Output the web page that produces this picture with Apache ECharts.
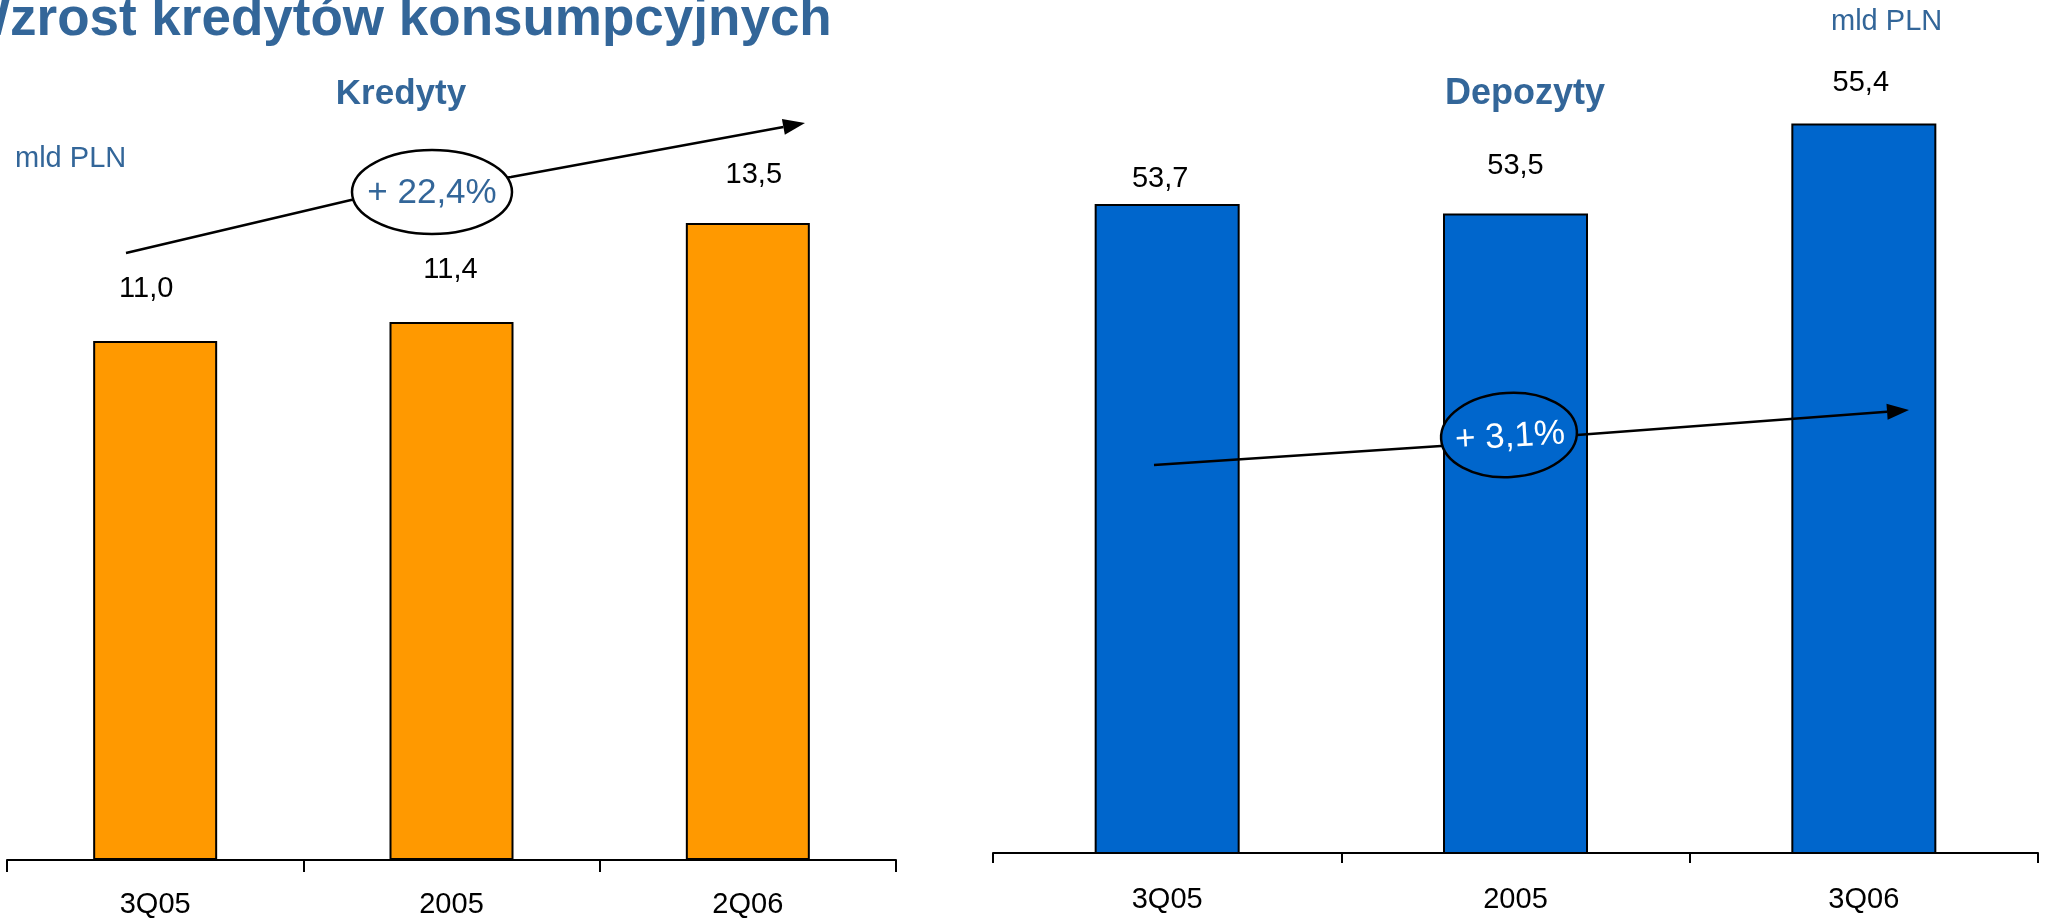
<!DOCTYPE html>
<html>
<head>
<meta charset="utf-8">
<title>Wzrost kredytów konsumpcyjnych</title>
<script src="https://cdn.jsdelivr.net/npm/echarts@6/dist/echarts.min.js"></script>
<style>
  html, body { margin: 0; padding: 0; background: #fff; }
  #chart { width: 2047px; height: 919px; }
</style>
</head>
<body>
<div id="chart"></div>
<script>
// dane - kredyty (mld PLN)
const kredytyKategorie = ['3Q05', '2005', '2Q06'];
const kredytyWartosci = [11.0, 11.4, 13.5];
// dane - depozyty (mld PLN)
const depozytyKategorie = ['3Q05', '2005', '3Q06'];
const depozytyWartosci = [53.7, 53.5, 55.4];
// dynamika
const kredytyWzrost = '+ 22,4%';
const depozytyWzrost = '+ 3,1%';

// etykiety w oryginale przesunięte ręcznie
const kredytyPrzes = [[-9, -37], [-1, -38], [6, -33]];
const depozytyPrzes = [[-7, -10], [0, -33], [-3, -26]];

const FONT = 'Liberation Sans, Arial, sans-serif';
const NIEBIESKI = '#336699';

function fmt(v) {
  return v.toFixed(1).replace('.', ',');
}

// strzałka: łamana + grot na końcu
function strzalka(punkty) {
  const n = punkty.length;
  const [x1, y1] = punkty[n - 2];
  const [x2, y2] = punkty[n - 1];
  const dx = x2 - x1, dy = y2 - y1;
  const len = Math.hypot(dx, dy);
  const ux = dx / len, uy = dy / len;
  const hl = 22, hw = 8;
  const bx = x2 - ux * hl, by = y2 - uy * hl;
  const linia = punkty.slice(0, n - 1).concat([[bx, by]]);
  return [
    {
      type: 'polyline', z: 100,
      shape: { points: linia },
      style: { stroke: '#000', lineWidth: 2.5, fill: null }
    },
    {
      type: 'polygon', z: 100,
      shape: { points: [[x2, y2], [bx - uy * hw, by + ux * hw], [bx + uy * hw, by - ux * hw]] },
      style: { fill: '#000' }
    }
  ];
}

function osX(idx, kategorie, margin, tick) {
  return {
    type: 'category',
    gridIndex: idx,
    data: kategorie,
    axisLine: { lineStyle: { color: '#000', width: 2 } },
    axisTick: { show: true, length: tick, lineStyle: { color: '#000', width: 2 } },
    axisLabel: {
      interval: 0,
      margin: margin,
      color: '#000',
      fontSize: 29,
      lineHeight: 29,
      fontFamily: FONT
    }
  };
}

function seria(idx, wartosci, przes, kolor, szer) {
  return {
    type: 'bar',
    xAxisIndex: idx,
    yAxisIndex: idx,
    barWidth: szer,
    data: wartosci.map(function (v, i) {
      return { value: v, label: { offset: przes[i] } };
    }),
    itemStyle: { color: kolor, borderColor: '#000', borderWidth: 2 },
    label: {
      show: true,
      position: 'top',
      distance: 0,
      formatter: function (p) { return fmt(p.value); },
      color: '#000',
      fontSize: 29,
      lineHeight: 29,
      fontFamily: FONT
    },
    emphasis: { disabled: true }
  };
}

const chart = echarts.init(document.getElementById('chart'));

const grafika = [
  {
    type: 'text', x: -40, y: 20, z: 100,
    style: { text: 'Wzrost kredytów konsumpcyjnych', font: 'bold 53px ' + FONT, fill: NIEBIESKI, textAlign: 'left', textVerticalAlign: 'middle' }
  },
  {
    type: 'text', x: 401, y: 94, z: 100,
    style: { text: 'Kredyty', font: 'bold 35px ' + FONT, fill: NIEBIESKI, textAlign: 'center', textVerticalAlign: 'middle' }
  },
  {
    type: 'text', x: 1525, y: 94, z: 100,
    style: { text: 'Depozyty', font: 'bold 36px ' + FONT, fill: NIEBIESKI, textAlign: 'center', textVerticalAlign: 'middle' }
  },
  {
    type: 'text', x: 15, y: 159, z: 100,
    style: { text: 'mld PLN', font: '29px ' + FONT, fill: NIEBIESKI, textAlign: 'left', textVerticalAlign: 'middle' }
  },
  {
    type: 'text', x: 1831, y: 22, z: 100,
    style: { text: 'mld PLN', font: '29px ' + FONT, fill: NIEBIESKI, textAlign: 'left', textVerticalAlign: 'middle' }
  }
]
  .concat(strzalka([[126, 253], [351, 200], [511, 177], [805, 123]]))
  .concat(strzalka([[1154, 465], [1441, 446], [1577, 435], [1909, 410]]))
  .concat([
    {
      type: 'ellipse', x: 432, y: 192, z: 101,
      shape: { cx: 0, cy: 0, rx: 80, ry: 42 },
      style: { fill: '#fff', stroke: '#000', lineWidth: 2.5 }
    },
    {
      type: 'text', x: 432, y: 193, z: 102,
      style: { text: kredytyWzrost, font: '35px ' + FONT, fill: NIEBIESKI, textAlign: 'center', textVerticalAlign: 'middle' }
    },
    {
      type: 'ellipse', x: 1509, y: 435, z: 101, rotation: 0.06,
      shape: { cx: 0, cy: 0, rx: 68, ry: 42 },
      style: { fill: '#0066CC', stroke: '#000', lineWidth: 2.5 }
    },
    {
      type: 'text', x: 1510, y: 437, z: 102, rotation: 0.06,
      style: { text: depozytyWzrost, font: '35px ' + FONT, fill: '#fff', textAlign: 'center', textVerticalAlign: 'middle' }
    }
  ]);

const option = {
  animation: false,
  backgroundColor: '#fff',
  grid: [
    { left: 7, right: 1151, top: 105, bottom: 57 },
    { left: 993, right: 9, top: 95, bottom: 66 }
  ],
  xAxis: [
    osX(0, kredytyKategorie, 30, 12),
    osX(1, depozytyKategorie, 32, 10)
  ],
  yAxis: [
    { type: 'value', gridIndex: 0, min: 0, max: 16, show: false },
    { type: 'value', gridIndex: 1, min: 40, max: 56, show: false }
  ],
  series: [
    seria(0, kredytyWartosci, kredytyPrzes, '#FF9900', 124),
    seria(1, depozytyWartosci, depozytyPrzes, '#0066CC', 145)
  ],
  graphic: grafika
};

chart.setOption(option);
</script>
</body>
</html>
